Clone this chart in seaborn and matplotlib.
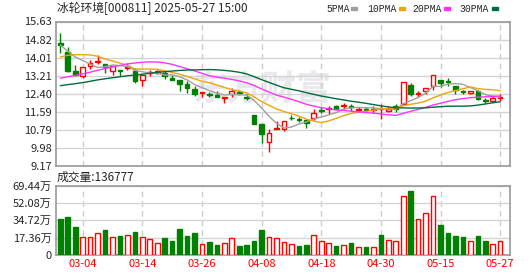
import matplotlib
matplotlib.use("Agg")
import matplotlib.pyplot as plt
from matplotlib.patches import Rectangle
import seaborn as sns
import numpy as np
import pandas as pd

# ---------------- data ----------------
dates = ["02-27", "02-28", "03-03", "03-04", "03-05", "03-06", "03-07", "03-10", "03-11", "03-12",
         "03-13", "03-14", "03-17", "03-18", "03-19", "03-20", "03-21", "03-24", "03-25", "03-26",
         "03-27", "03-28", "03-31", "04-01", "04-02", "04-03", "04-07", "04-08", "04-09", "04-10",
         "04-11", "04-14", "04-15", "04-16", "04-17", "04-18", "04-21", "04-22", "04-23", "04-24",
         "04-25", "04-28", "04-29", "04-30", "05-06", "05-07", "05-08", "05-09", "05-12", "05-13",
         "05-14", "05-15", "05-16", "05-19", "05-20", "05-21", "05-22", "05-23", "05-26", "05-27"]

opens = [14.69, 14.26, 13.40, 13.18, 13.63, 13.82, 13.75, 13.43, 13.45, 13.55,
         13.40, 13.03, 13.33, 13.34, 13.33, 13.11, 13.00, 12.84, 12.62, 12.44,
         12.37, 12.34, 12.19, 12.37, 12.47, 12.26, 11.43, 11.03, 10.26, 10.81,
         10.84, 11.33, 11.27, 11.22, 11.33, 11.67, 11.70, 11.85, 11.83, 11.85,
         11.68, 11.72, 11.69, 11.70, 11.62, 11.83, 11.92, 12.77, 12.40, 12.54,
         12.74, 13.03, 12.97, 12.74, 12.52, 12.42, 12.51, 12.11, 12.07, 12.22]
closes = [14.59, 13.40, 13.26, 13.58, 13.79, 13.85, 13.58, 13.63, 13.43, 13.60,
          12.99, 13.26, 13.37, 13.40, 13.18, 13.02, 12.84, 12.66, 12.37, 12.48,
          12.34, 12.26, 12.26, 12.51, 12.43, 12.23, 11.07, 10.58, 10.63, 10.88,
          11.18, 11.30, 11.24, 11.10, 11.53, 11.64, 11.77, 11.74, 11.89, 11.80,
          11.74, 11.69, 11.73, 11.72, 11.70, 11.70, 12.91, 12.41, 12.44, 12.66,
          13.23, 12.89, 12.94, 12.56, 12.49, 12.51, 12.17, 12.08, 12.22, 12.26]
highs = [15.11, 14.47, 13.67, 13.58, 13.92, 14.15, 13.75, 13.63, 13.45, 13.77,
         13.55, 13.26, 13.48, 13.48, 13.43, 13.26, 13.00, 12.96, 12.74, 12.48,
         12.48, 12.51, 12.26, 12.66, 12.59, 12.41, 11.47, 11.03, 10.81, 11.18,
         11.18, 11.43, 11.37, 11.22, 11.70, 11.80, 11.85, 11.89, 12.00, 11.92,
         11.80, 11.82, 11.85, 11.95, 11.85, 11.95, 12.91, 12.87, 12.54, 12.66,
         13.23, 13.03, 13.12, 12.74, 12.59, 12.51, 12.59, 12.19, 12.29, 12.37]
lows = [14.22, 13.37, 13.18, 13.11, 13.52, 13.73, 13.33, 13.26, 13.18, 13.48,
        12.89, 12.74, 13.18, 13.28, 13.08, 13.02, 12.51, 12.44, 12.29, 12.25,
        12.25, 12.25, 11.99, 12.25, 12.34, 12.11, 11.07, 10.21, 9.80, 10.81,
        10.73, 11.21, 11.15, 10.85, 11.22, 11.53, 11.50, 11.70, 11.74, 11.65,
        11.65, 11.59, 11.55, 11.25, 11.59, 11.59, 11.89, 12.29, 12.25, 12.40,
        12.59, 12.71, 12.75, 12.37, 12.40, 12.37, 12.11, 11.99, 12.07, 12.07]
# volume in 万 (10k)
volumes = [36.4, 38.4, 28.4, 18.0, 18.0, 22.4, 25.4, 18.0, 19.4, 20.4,
           23.4, 18.0, 15.4, 12.0, 16.4, 13.4, 26.4, 19.4, 22.4, 11.0,
           12.4, 10.3, 12.0, 17.0, 8.3, 10.3, 13.4, 25.4, 18.0, 17.0,
           13.0, 11.0, 8.3, 10.3, 20.0, 14.0, 12.0, 8.3, 10.0, 11.4,
           8.0, 7.3, 8.0, 20.4, 15.0, 14.0, 59.4, 64.4, 36.0, 42.1,
           59.4, 30.4, 22.4, 19.4, 17.4, 14.0, 18.4, 13.4, 11.0, 13.68]
# volume bar colour as seen in the picture: R = red (hollow), G = green
volume_dir = list("GGGRRRGRGR" "GRRRGGGGGR" "GGRRGGGGRR"
                  "RRGGRRRGRG" "RGRGRRRGRR" "RGGGGRGGRR")
# closes before the visible window (estimated from the starting MA levels)
prior_closes = [11.95, 12.02, 12.10, 12.05, 11.98, 12.12, 12.20, 12.15, 12.18, 12.15,
                12.10, 12.08, 12.20, 12.25, 12.15, 12.05, 12.10, 12.18, 12.22, 12.17,
                12.60, 13.04, 13.50, 13.95, 14.41, 14.80, 14.55, 14.36, 14.60]

ma_periods = [5, 10, 20, 30]
ma_names = ["5PMA", "10PMA", "20PMA", "30PMA"]
ma_colors = ["#a0a0a0", "#f0a30a", "#ff33ff", "#006b3c"]

price_ticks = [15.63, 14.82, 14.01, 13.21, 12.40, 11.59, 10.79, 9.98, 9.17]
vol_ticks = [0, 17.36, 34.72, 52.08, 69.44]
vol_tick_labels = ["0", "17.36万", "34.72万", "52.08万", "69.44万"]
date_ticks = ["03-04", "03-14", "03-26", "04-08", "04-18", "04-30", "05-15", "05-27"]

title = "冰轮环境[000811] 2025-05-27 15:00"
vol_title = "成交量:136777"

# ---------------- style ----------------
sns.set_style("white")
plt.rcParams['font.family'] = ['Noto Sans CJK SC', 'DejaVu Sans']

RED = "#ff0000"
GREEN = "#008000"
GRID = "#d4d4d4"
FRAME = "#999999"

W, H = 530, 276
fig = plt.figure(figsize=(W / 100, H / 100), dpi=100)
fig.patch.set_facecolor("white")

left, right = 56, 509.5
ax = fig.add_axes([left / W, 1 - 166 / H, (right - left) / W, (166 - 21.5) / H])
axv = fig.add_axes([left / W, 1 - 254.7 / H, (right - left) / W, (254.7 - 186) / H])

n = len(closes)
idx = np.arange(n)
df = pd.DataFrame({"i": idx, "date": dates, "open": opens, "close": closes,
                   "high": highs, "low": lows, "vol": volumes, "vdir": volume_dir})
up = df["close"] >= df["open"]
vup = df["vdir"] == "R"

# watermark
ax.text(0.455, 0.53, "东方财富", transform=ax.transAxes, fontsize=25, color="#e9e9ed",
        ha="center", va="center", fontweight="bold", style="italic", zorder=0)

# wicks
ax.vlines(df["i"], df["low"], df["high"], colors=np.where(up, RED, GREEN), lw=1.0, zorder=2)
# bodies
body_bottom = np.minimum(df["open"], df["close"])
body_h = np.maximum(np.abs(df["close"] - df["open"]), 0.015)
ax.bar(df["i"], body_h, bottom=body_bottom, width=0.62,
       color=np.where(up, "white", GREEN), edgecolor=np.where(up, RED, GREEN),
       linewidth=1.0, zorder=3)

# moving averages
full = pd.Series(prior_closes + closes, dtype=float)
for p, name, c in zip(ma_periods, ma_names, ma_colors):
    ma = full.rolling(p).mean().iloc[len(prior_closes):].to_numpy()
    sns.lineplot(x=idx, y=ma, ax=ax, color=c, lw=1.0, legend=False, zorder=4)

# volume
axv.bar(df["i"], df["vol"], width=0.62, color=np.where(vup, "white", GREEN),
        edgecolor=np.where(vup, RED, GREEN), linewidth=1.0, zorder=3)

date_pos = [dates.index(d) for d in date_ticks]
for a in (ax, axv):
    a.set_xlim(-0.58, 60.25)
    a.set_xticks(date_pos)
    a.grid(axis="x", color="#cccccc", lw=1.0, ls=(0, (4, 3)), zorder=0)
    a.grid(axis="y", color=GRID, lw=1.0, zorder=0)
    a.set_axisbelow(True)
    for s in a.spines.values():
        s.set_color(FRAME)
        s.set_linewidth(1.2)
    a.tick_params(length=0, labelsize=8, pad=3)
    a.set_xlabel("")
    a.set_ylabel("")

ax.set_ylim(price_ticks[-1], price_ticks[0])
ax.set_yticks(price_ticks)
ax.set_yticklabels([f"{t:.2f}" for t in price_ticks])
ax.set_xticklabels([])

axv.set_ylim(0, vol_ticks[-1])
axv.set_yticks(vol_ticks)
axv.set_yticklabels(vol_tick_labels)
axv.set_xticklabels(date_ticks, color=RED)

# titles
fig.text(57 / W, 1 - 8.5 / H, title, fontsize=8.5, va="center", ha="left")
fig.text(57 / W, 1 - 177 / H, vol_title, fontsize=8.5, va="center", ha="left")

# legend
leg_x = [326, 367, 412, 459]
rect_x = [351, 399, 444, 492]
for name, c, tx, rx in zip(ma_names, ma_colors, leg_x, rect_x):
    fig.text(tx / W, 1 - 8.5 / H, name, fontsize=7, va="center", ha="left",
             family="Liberation Mono")
    fig.patches.append(Rectangle((rx / W, 1 - 10 / H), 6 / W, 3 / H, color=c,
                                 transform=fig.transFigure, figure=fig))

fig.savefig("out.png", dpi=100, facecolor="white")
